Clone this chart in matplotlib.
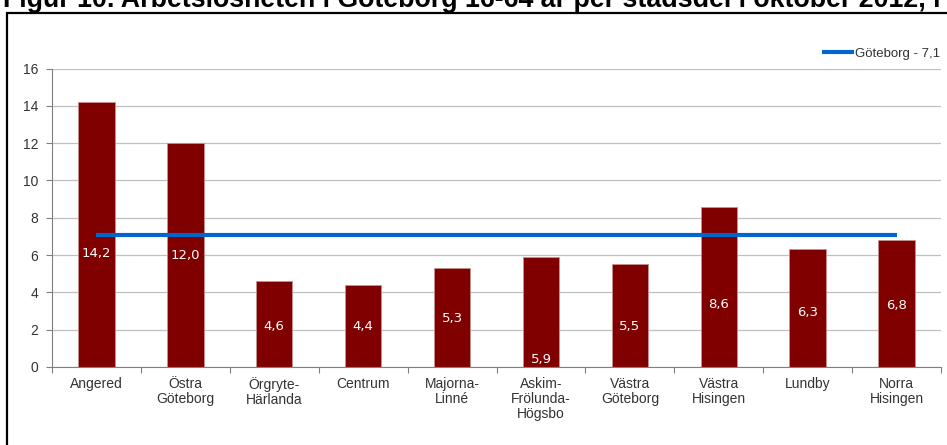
import numpy as np
import matplotlib.pyplot as plt
from matplotlib.patches import Rectangle

plt.rcParams['font.family'] = ['Liberation Sans', 'DejaVu Sans']

# data
stadsdelar = ['Angered', 'Östra\nGöteborg', 'Örgryte-\nHärlanda', 'Centrum', 'Majorna-\nLinné',
              'Askim-\nFrölunda-\nHögsbo', 'Västra\nGöteborg', 'Västra\nHisingen', 'Lundby', 'Norra\nHisingen']
arbetsloshet = [14.2, 12.0, 4.6, 4.4, 5.3, 5.9, 5.5, 8.6, 6.3, 6.8]
goteborg = 7.1
title = 'Figur 10. Arbetslösheten i Göteborg 16-64 år per stadsdel i oktober 2012, i'

# where excel happened to put the value labels (data units)
label_y = [6.1, 5.95, 2.15, 2.15, 2.6, 0.4, 2.15, 3.35, 2.9, 3.3]

fig = plt.figure(figsize=(9.47, 4.45), dpi=100)
ax = fig.add_axes([52 / 947, 1 - 367 / 445, (941 - 52) / 947, (367 - 68.5) / 445])

x = np.arange(len(stadsdelar))
ax.bar(x, arbetsloshet, width=0.41, color='#800000', edgecolor='#c89090', linewidth=0.6, zorder=2)

for xi, v, ly in zip(x, arbetsloshet, label_y):
    ax.text(xi, ly, f'{v:.1f}'.replace('.', ','), ha='center', va='center', color='white',
            fontsize=9.5, family='DejaVu Sans', zorder=4)

line, = ax.plot([x[0], x[-1]], [goteborg, goteborg], color='#0066cc', lw=3,
                solid_capstyle='butt', zorder=3)

ax.set_xlim(-0.5, len(stadsdelar) - 0.5)
ax.set_ylim(0, 16)
ax.set_yticks(np.arange(0, 17, 2))
ax.yaxis.grid(True, color='#c0c0c0', lw=0.9, zorder=0)
ax.set_axisbelow(True)

ax.set_xticks(np.arange(-0.5, len(stadsdelar) + 0.5, 1))
ax.set_xticklabels([])
ax.set_xticks(x, minor=True)
ax.set_xticklabels(stadsdelar, minor=True, fontsize=10, color='#333333', linespacing=1.1)
ax.tick_params(axis='x', which='minor', length=0, pad=7)
ax.tick_params(axis='x', which='major', length=4, color='#808080')
ax.tick_params(axis='y', length=4, color='#808080', labelsize=10, labelcolor='#333333', pad=6)

for s in ['top', 'right']:
    ax.spines[s].set_visible(False)
for s in ['left', 'bottom']:
    ax.spines[s].set_color('#808080')

fig.legend([line], [f'Göteborg - {goteborg}'.replace('.', ',')], loc='center right',
           bbox_to_anchor=(940 / 947, 1 - 54 / 445), frameon=False, fontsize=9.5,
           handlelength=2.4, handletextpad=0.1, labelcolor='#333333', borderaxespad=0, borderpad=0)

# outer frame of the chart object (only top and left edges are inside the picture)
fig.patches.append(Rectangle((7 / 947, -0.05), 1.0, 1 - 13 / 445 + 0.05,
                             transform=fig.transFigure, fill=False, ec='black', lw=1.6))

fig.text(3 / 947, 1 - 7 / 445, title, fontsize=19.3, fontweight='bold', ha='left', va='baseline')

fig.savefig('out.png', dpi=100)
